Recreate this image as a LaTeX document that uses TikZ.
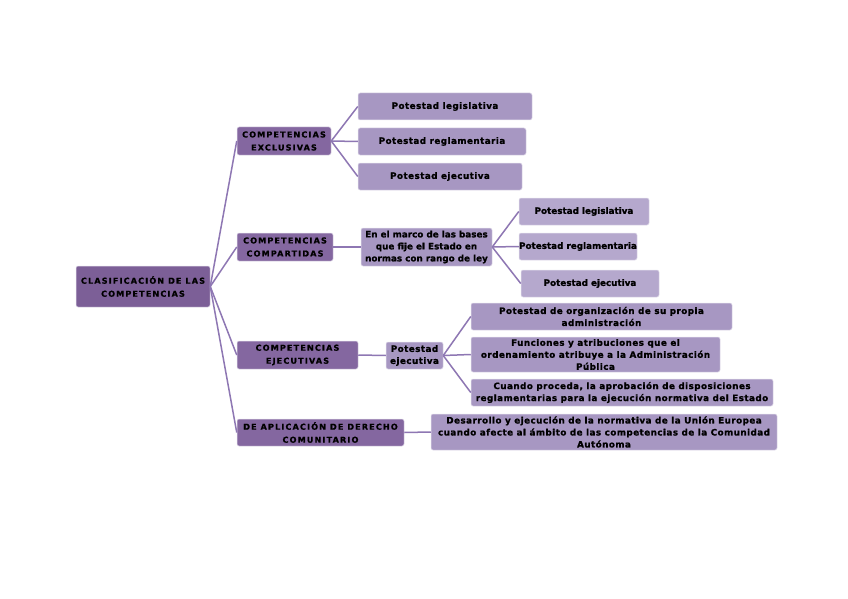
\documentclass[tikz,border=0pt]{standalone}
\usepackage{fontspec}
\setmainfont{DejaVu Sans}[BoldFeatures={FakeBold=1}]
\newfontfamily\capsfont{DejaVu Sans}[LetterSpace=14, BoldFeatures={FakeBold=1}]
\newfontfamily\leaffont{DejaVu Sans}[LetterSpace=5, BoldFeatures={FakeBold=1}]
\definecolor{moraosc}{HTML}{7C5F97}
\definecolor{moramed}{HTML}{8467A0}
\definecolor{moracla}{HTML}{A797C2}
\definecolor{morapal}{HTML}{B5A8CD}
\definecolor{moralin}{HTML}{8E77B3}
\tikzset{
  caja/.style={rectangle, rounded corners=2pt, draw=white!70!moracla, line width=0.5pt,
    inner sep=0pt, align=center, text=black},
  raiz/.style={caja, fill=moraosc, font=\capsfont\bfseries\fontsize{8.1}{13}\selectfont},
  rama/.style={caja, fill=moramed, font=\capsfont\bfseries\fontsize{8.1}{13}\selectfont},
  hoja/.style={caja, fill=moracla, font=\leaffont\bfseries\fontsize{8.8}{12}\selectfont},
  hojapal/.style={hoja, fill=morapal, font=\bfseries\fontsize{8.8}{12}\selectfont},
  enlace/.style={draw=moralin, line width=1.5pt}
}
\begin{document}
\begin{tikzpicture}[x=1pt, y=-1pt]
\useasboundingbox[fill=white] (0,0) rectangle (848,599);
% raiz
\node[raiz, minimum width=134pt, minimum height=41pt] (clas) at (143,286.5) {CLASIFICACIÓN DE LAS\\COMPETENCIAS};
% ramas
\node[rama, minimum width=94pt, minimum height=28pt] (excl) at (284,141) {COMPETENCIAS\\EXCLUSIVAS};
\node[rama, minimum width=96pt, minimum height=28pt] (comp) at (285,247) {COMPETENCIAS\\COMPARTIDAS};
\node[rama, minimum width=121pt, minimum height=28pt] (ejec) at (297.5,355) {COMPETENCIAS\\EJECUTIVAS};
\node[rama, minimum width=167pt, minimum height=27pt] (comu) at (320.5,432.5) {DE APLICACIÓN DE DERECHO\\COMUNITARIO};
% exclusivas
\node[hoja, minimum width=174pt, minimum height=27pt] (exleg) at (445,106.5) {Potestad legislativa};
\node[hoja, minimum width=168pt, minimum height=27pt] (exreg) at (442,141.5) {Potestad reglamentaria};
\node[hoja, minimum width=164pt, minimum height=27pt] (exejc) at (440,176.5) {Potestad ejecutiva};
% compartidas
\node[hoja, minimum width=131pt, minimum height=38pt,
  font=\bfseries\fontsize{8.8}{12}\selectfont] (marco) at (426.5,247) {En el marco de las bases\\que fije el Estado en\\normas con rango de ley};
\node[hojapal, minimum width=130pt, minimum height=27pt] (coleg) at (584,211.5) {Potestad legislativa};
\node[hojapal, minimum width=118pt, minimum height=27pt] (coreg) at (578,246.5) {Potestad reglamentaria};
\node[hojapal, minimum width=138pt, minimum height=27pt] (coejc) at (590,283.5) {Potestad ejecutiva};
% ejecutivas
\node[hoja, minimum width=57pt, minimum height=27pt] (potej) at (414.5,355.5) {Potestad\\ejecutiva};
\node[hoja, minimum width=261pt, minimum height=27pt] (ejorg) at (601.5,316.5) {Potestad de organización de su propia\\administración};
\node[hoja, minimum width=249pt, minimum height=35pt] (ejfun) at (595.5,354.5) {Funciones y atribuciones que el\\ordenamiento atribuye a la Administración\\Pública};
\node[hoja, minimum width=302pt, minimum height=27pt] (ejapr) at (622,392.5) {Cuando proceda, la aprobación de disposiciones\\reglamentarias para la ejecución normativa del Estado};
% comunitario
\node[hoja, minimum width=346pt, minimum height=36pt] (uneu) at (604,432) {Desarrollo y ejecución de la normativa de la Unión Europea\\cuando afecte al ámbito de las competencias de la Comunidad\\Autónoma};
% enlaces
\foreach \r in {excl,comp,ejec,comu}
  \draw[enlace] (clas.east) -- (\r.west);
\foreach \h in {exleg,exreg,exejc}
  \draw[enlace] (excl.east) -- (\h.west);
\draw[enlace] (comp.east) -- (marco.west);
\foreach \h in {coleg,coreg,coejc}
  \draw[enlace] (marco.east) -- (\h.west);
\draw[enlace] (ejec.east) -- (potej.west);
\foreach \h in {ejorg,ejfun,ejapr}
  \draw[enlace] (potej.east) -- (\h.west);
\draw[enlace] (comu.east) -- (uneu.west);
\end{tikzpicture}
\end{document}
